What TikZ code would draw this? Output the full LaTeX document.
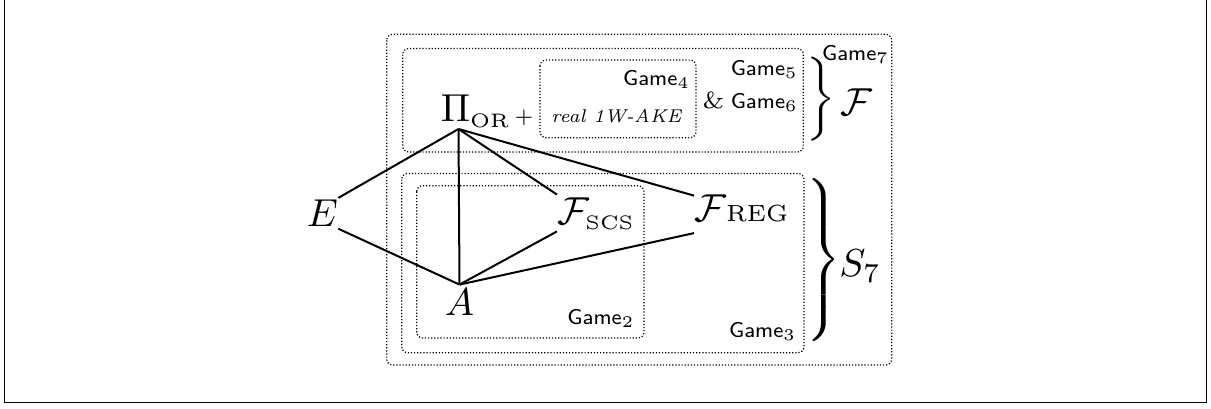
\RequirePackage{fix-cm}
\documentclass[tikz,border=0pt]{standalone}
\usepackage{graphicx}
\usetikzlibrary{calc}
\newcommand{\sbx}[1]{\scalebox{1.95}{#1}}
\newcommand{\gm}[1]{\textsf{\fontsize{5.5}{6}\selectfont Game}\raisebox{-0.8pt}{\fontsize{4.2}{5}\selectfont #1}}
\tikzset{
  lbl/.style={inner sep=0pt, anchor=base east},
  mth/.style={inner sep=0pt},
  cont/.style={dash pattern=on 0.6pt off 0.95pt, line width=0.6pt, rounded corners=3pt},
  edgeline/.style={line width=1pt},
}
\begin{document}
\begin{tikzpicture}[x=0.5pt,y=-0.5pt]
\useasboundingbox (0,0) rectangle (1211,408);
% outer frame
\draw[line width=0.75pt] (4.7,-10) -- (4.7,402.5) -- (1206.3,402.5) -- (1206.3,-10);
% containers
\draw[cont] (386.7,34.3) rectangle (891.7,365);
\draw[cont] (402.7,48.5) rectangle (803.3,152);
\draw[cont] (540,60) rectangle (696,137.7);
\draw[cont] (401.7,173.5) rectangle (804,352.7);
\draw[cont] (416.7,185.7) rectangle (644,338);
% labels
\node[lbl] (g4) at (689,85) {\sbx{\gm{4}}};
\node[lbl] (g5) at (796.7,75) {\sbx{\gm{5}}};
\node[lbl] (g6) at (796.7,108) {\sbx{{\fontsize{6}{7}\selectfont\&}\hspace{1.6pt}\gm{6}}};
\node[lbl] (g7) at (888,60) {\sbx{\gm{7}}};
\node[lbl] (g2) at (633.3,324) {\sbx{\gm{2}}};
\node[lbl] (g3) at (795,337) {\sbx{\gm{3}}};
\node[lbl] (ake) at (681.7,122.7) {\sbx{\fontsize{4.75}{5.5}\selectfont\itshape real 1W-AKE}};
% math nodes
\node[mth, anchor=base west] (pi) at (440.5,121.7) {\sbx{$\Pi_{\scriptscriptstyle\mathrm{OR}}$}};
\node[mth] (plus) at (524,118) {\sbx{\fontsize{4.8}{5}\selectfont$+$}};
\node[mth, anchor=base east, text height=14.2pt, text depth=0.8pt] (E) at (338.3,226.7) {\sbx{$E$}};
\node[mth, anchor=base, text height=15pt, text depth=0pt] (A) at (459.5,315) {\sbx{$A$}};
\node[mth, anchor=base west, text height=14.5pt, text depth=3.5pt] (fscs) at (557,224) {\sbx{$\mathcal{F}_{\scriptscriptstyle\mathrm{SCS}}$}};
\node[mth, anchor=base west, text height=12.5pt, text depth=5.85pt] (freg) at (694,221) {\sbx{$\mathcal{F}$\fontsize{6}{7}\selectfont REG}};
\node[mth, anchor=base west] (fam) at (840,115) {\sbx{$\mathcal{F}$}};
\node[mth, anchor=base west] (s7) at (839,276.7) {\sbx{$S_7$}};
% braces
\node[mth] (bF) at (820.8,98.8) {\scalebox{1.95}[1.75]{$\bigg\}$}};
\node[mth] (bS) at (821,260) {\sbx{$\left.\vrule height 22.5pt depth 17.5pt width 0pt\right\}$}};
% connectors
\coordinate (P) at ($(pi.base west)+(18,7.3)$);
\draw[edgeline] (P) -- (E.north east);
\draw[edgeline] (P) -- (A.north);
\draw[edgeline] (P) -- (fscs.north west);
\draw[edgeline] (P) -- (freg.north west);
\draw[edgeline] (E.south east) -- (A.north);
\draw[edgeline] (A.north) -- (fscs.south west);
\draw[edgeline] (A.north) -- (freg.south west);
\end{tikzpicture}
\end{document}
